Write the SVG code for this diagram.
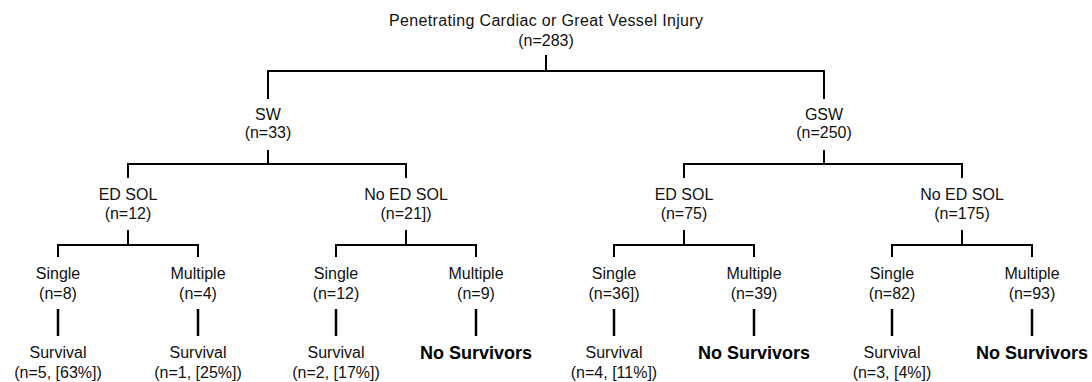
<svg xmlns="http://www.w3.org/2000/svg" width="1092" height="382" viewBox="0 0 1092 382">
<style>
.t{font-family:"Liberation Sans",Arial,Helvetica,sans-serif;font-size:16px;text-anchor:middle;fill:#111}
.b{font-family:"Liberation Sans",Arial,Helvetica,sans-serif;font-size:18px;font-weight:bold;text-anchor:middle;fill:#000}
.c{stroke:#000;stroke-width:2;fill:none}
.l{stroke:#000;stroke-width:2.5;fill:none}
</style>
<rect width="1092" height="382" fill="#fff"/>
<g id="connectors">
<path class="c" d="M546 55V71M267 71H825M268 70V99M824 70V99"/>
<path class="c" d="M268 150V164M127 164H407M128 163V178M406 163V178"/>
<path class="c" d="M824 150V164M683 164H963M684 163V178M962 163V178"/>
<path class="c" d="M128 230V245M57 245H199M58 244V257M198 244V257"/>
<path class="c" d="M406 230V245M335 245H477M336 244V257M476 244V257"/>
<path class="c" d="M684 230V245M613 245H755M614 244V257M754 244V257"/>
<path class="c" d="M962 230V245M891 245H1033M892 244V257M1032 244V257"/>
<path class="l" d="M58 309V336M198 309V336M336 309V336M476 309V336M614 309V336M754 309V336M892 309V336M1032 309V336"/>
</g>
<g id="root"><text class="t" x="546" y="26" textLength="314" lengthAdjust="spacing">Penetrating Cardiac or Great Vessel Injury</text><text class="t" x="546" y="46">(n=283)</text></g>
<g id="sw"><text class="t" x="268" y="120">SW</text><text class="t" x="268" y="138">(n=33)</text></g>
<g id="gsw"><text class="t" x="824" y="120">GSW</text><text class="t" x="824" y="138">(n=250)</text></g>
<g id="sw-edsol"><text class="t" x="128" y="200">ED SOL</text><text class="t" x="128" y="219">(n=12)</text></g>
<g id="sw-noedsol"><text class="t" x="406" y="200">No ED SOL</text><text class="t" x="406" y="219">(n=21])</text></g>
<g id="gsw-edsol"><text class="t" x="684" y="200">ED SOL</text><text class="t" x="684" y="219">(n=75)</text></g>
<g id="gsw-noedsol"><text class="t" x="962" y="200">No ED SOL</text><text class="t" x="962" y="219">(n=175)</text></g>
<g id="sw-edsol-single"><text class="t" x="58" y="279">Single</text><text class="t" x="58" y="299">(n=8)</text></g>
<g id="sw-edsol-multiple"><text class="t" x="198" y="279">Multiple</text><text class="t" x="198" y="299">(n=4)</text></g>
<g id="sw-noedsol-single"><text class="t" x="336" y="279">Single</text><text class="t" x="336" y="299">(n=12)</text></g>
<g id="sw-noedsol-multiple"><text class="t" x="476" y="279">Multiple</text><text class="t" x="476" y="299">(n=9)</text></g>
<g id="gsw-edsol-single"><text class="t" x="614" y="279">Single</text><text class="t" x="614" y="299">(n=36])</text></g>
<g id="gsw-edsol-multiple"><text class="t" x="754" y="279">Multiple</text><text class="t" x="754" y="299">(n=39)</text></g>
<g id="gsw-noedsol-single"><text class="t" x="892" y="279">Single</text><text class="t" x="892" y="299">(n=82)</text></g>
<g id="gsw-noedsol-multiple"><text class="t" x="1032" y="279">Multiple</text><text class="t" x="1032" y="299">(n=93)</text></g>
<g id="out1"><text class="t" x="58" y="358">Survival</text><text class="t" x="58" y="378">(n=5, [63%])</text></g>
<g id="out2"><text class="t" x="198" y="358">Survival</text><text class="t" x="198" y="378">(n=1, [25%])</text></g>
<g id="out3"><text class="t" x="336" y="358">Survival</text><text class="t" x="336" y="378">(n=2, [17%])</text></g>
<g id="out4"><text class="b" x="476" y="359">No Survivors</text></g>
<g id="out5"><text class="t" x="614" y="358">Survival</text><text class="t" x="614" y="378">(n=4, [11%])</text></g>
<g id="out6"><text class="b" x="754" y="359">No Survivors</text></g>
<g id="out7"><text class="t" x="892" y="358">Survival</text><text class="t" x="892" y="378">(n=3, [4%])</text></g>
<g id="out8"><text class="b" x="1032" y="359">No Survivors</text></g>
</svg>
